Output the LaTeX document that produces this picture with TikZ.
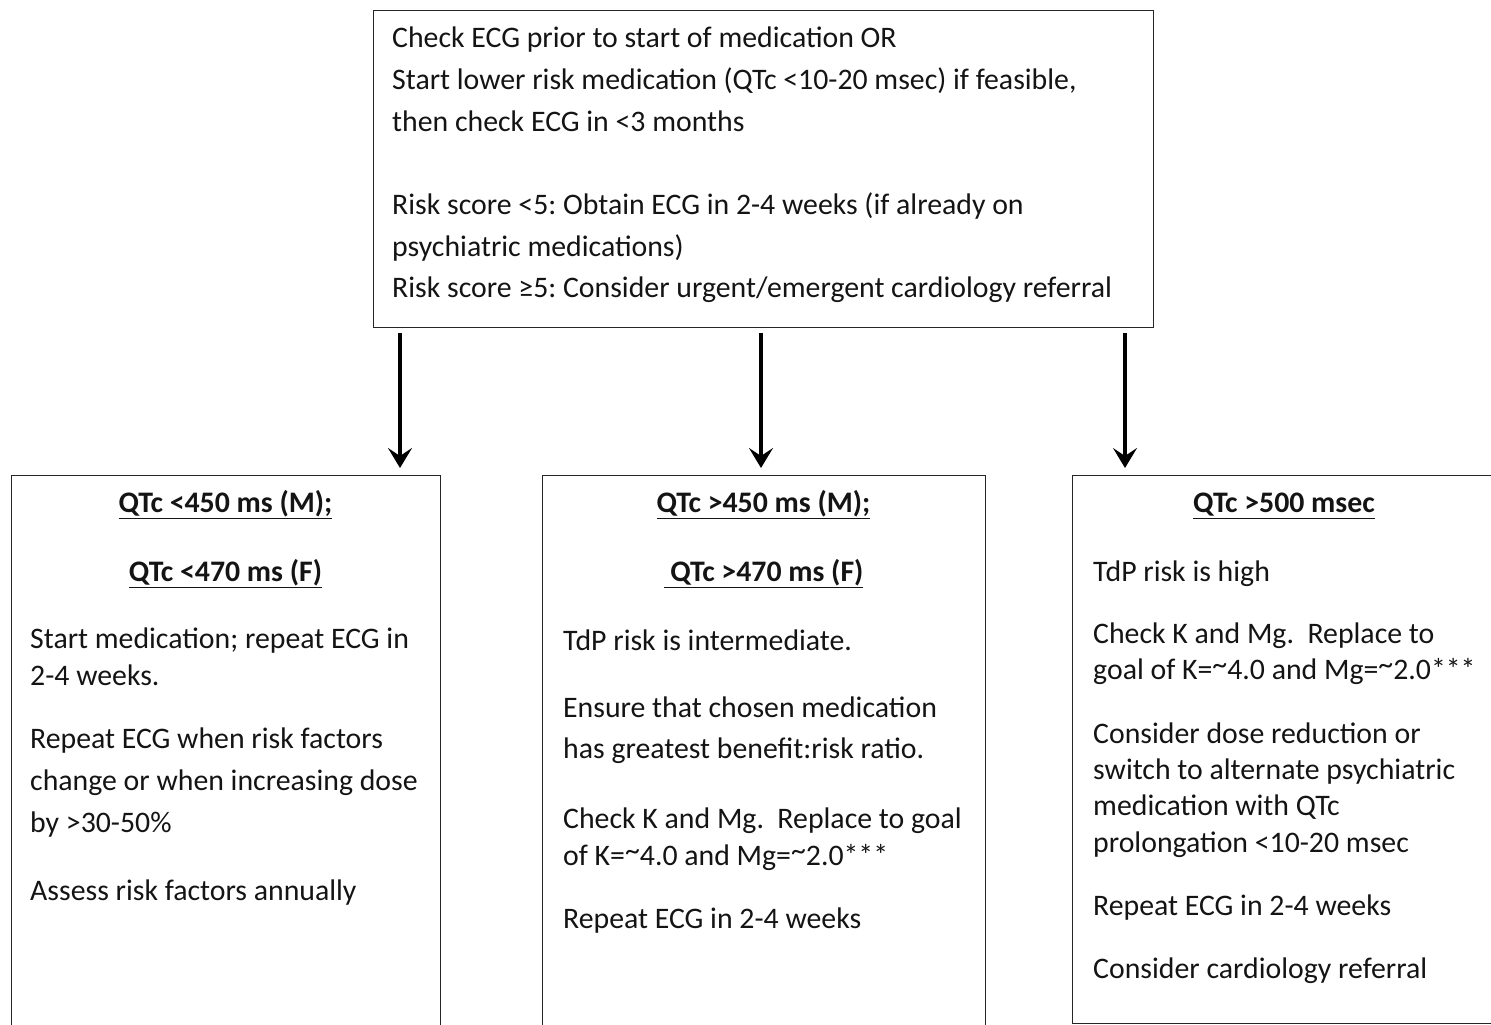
\documentclass[tikz,border=0pt]{standalone}
\usepackage{fontspec}
\setmainfont{Carlito}
\usetikzlibrary{arrows.meta}
\newcommand{\hitilde}{\raisebox{4.5pt}{\textasciitilde}}
\tikzset{
  box/.style={draw=black!85, line width=1.4pt, anchor=north west, inner sep=0pt},
  txt/.style={anchor=base west, inner sep=0pt, font=\fontsize{29.8}{34}\selectfont\frenchspacing, text=black!92},
  ttl/.style={anchor=base, inner sep=0pt, font=\fontsize{29.8}{34}\selectfont\bfseries, text=black!92},
  flow/.style={line width=4.5pt, -{Stealth[length=20pt,width=24pt,inset=8pt]}, shorten <=5pt, shorten >=7pt}
}
\begin{document}
\begin{tikzpicture}[x=1pt,y=-1pt]
\useasboundingbox (0,0) rectangle (1491,1025);
\clip (0,0) rectangle (1491,1025);
% boxes
\node[box, minimum width=780pt, minimum height=317pt] (top) at (373,10) {};
\node[box, minimum width=429pt, minimum height=600pt] (left) at (11,475) {};
\node[box, minimum width=443pt, minimum height=600pt] (mid) at (542,475) {};
\node[box, minimum width=426pt, minimum height=548pt] (right) at (1072,475) {};
% arrow columns
\coordinate (ax1) at (400,0);
\coordinate (ax2) at (761,0);
\coordinate (ax3) at (1125,0);
% top text
\node[txt] (t1) at (392,47.5) {Check ECG prior to start of medication OR};
\node[txt] (t2) at (392,89) {Start lower risk medication (QTc <10-20 msec) if feasible,};
\node[txt] (t3) at (392,131) {then check ECG in <3 months};
\node[txt] (t4) at (392,214) {Risk score <5: Obtain ECG in 2-4 weeks (if already on};
\node[txt] (t5) at (392,256) {psychiatric medications)};
\node[txt] (t6) at (392,297) {Risk score ≥5: Consider urgent/emergent cardiology referral};
% left text
\node[ttl] (l1) at (225.5,512.7) {\underline{QTc <450 ms (M);}};
\node[ttl] (l2) at (225.5,581) {\underline{QTc <470 ms (F)}};
\node[txt] (l3) at (30,648) {Start medication; repeat ECG in};
\node[txt] (l4) at (30,685.5) {2-4 weeks.};
\node[txt] (l5) at (30,748) {Repeat ECG when risk factors};
\node[txt] (l6) at (30,790) {change or when increasing dose};
\node[txt] (l7) at (30,832) {by >30-50\%};
\node[txt] (l8) at (30,900) {Assess risk factors annually};
% middle text
\node[ttl] (m1) at (763.5,512.7) {\underline{QTc >450 ms (M);}};
\node[ttl] (m2) at (763.5,581) {\underline{\ QTc >470 ms (F)}};
\node[txt] (m3) at (563,650) {TdP risk is intermediate.};
\node[txt] (m4) at (563,717) {Ensure that chosen medication};
\node[txt] (m5) at (563,758.5) {has greatest benefit:risk ratio.};
\node[txt] (m6) at (563,828) {Check K and Mg.\ \ Replace to goal};
\node[txt] (m7) at (563,865) {of K=\hitilde4.0 and Mg=\hitilde2.0***};
\node[txt] (m8) at (563,928) {Repeat ECG in 2-4 weeks};
% right text
\node[ttl] (r1) at (1284,512.7) {\underline{QTc >500 msec}};
\node[txt] (r2) at (1093,581) {TdP risk is high};
\node[txt] (r3) at (1093,643) {Check K and Mg.\ \ Replace to};
\node[txt] (r4) at (1093,679) {goal of K=\hitilde4.0 and Mg=\hitilde2.0***};
\node[txt] (r5) at (1093,743) {Consider dose reduction or};
\node[txt] (r6) at (1093,779) {switch to alternate psychiatric};
\node[txt] (r7) at (1093,815) {medication with QTc};
\node[txt] (r8) at (1093,852) {prolongation <10-20 msec};
\node[txt] (r9) at (1093,915) {Repeat ECG in 2-4 weeks};
\node[txt] (r10) at (1093,978) {Consider cardiology referral};
% arrows
\draw[flow] (top.south -| ax1) -- (left.north -| ax1);
\draw[flow] (top.south -| ax2) -- (mid.north -| ax2);
\draw[flow] (top.south -| ax3) -- (right.north -| ax3);
\end{tikzpicture}
\end{document}
